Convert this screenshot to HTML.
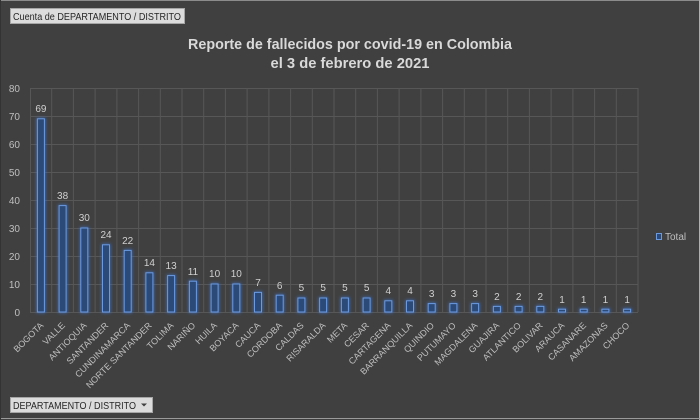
<!DOCTYPE html>
<html><head><meta charset="utf-8"><style>
html,body{margin:0;padding:0;background:#404040;}
svg{display:block;}
text{font-family:"Liberation Sans",sans-serif;}
</style></head><body>
<svg width="700" height="420" viewBox="0 0 700 420" xmlns="http://www.w3.org/2000/svg">
<defs>
<filter id="glow" x="-100%" y="-20%" width="300%" height="140%"><feGaussianBlur stdDeviation="1.6"/></filter>
</defs>
<rect x="0" y="0" width="700" height="420" fill="#404040"/>
<line x1="0" y1="0.5" x2="700" y2="0.5" stroke="#8c8c8c"/>
<line x1="699.5" y1="0" x2="699.5" y2="420" stroke="#b0b0b0"/>
<line x1="0" y1="418.5" x2="700" y2="418.5" stroke="#9a9a9a"/>
<line x1="0.5" y1="0" x2="0.5" y2="420" stroke="#333"/>

<!-- gridlines -->
<g stroke="#575757" stroke-width="1">
<line x1="30" y1="88.5" x2="638" y2="88.5"/>
<line x1="30" y1="116.5" x2="638" y2="116.5"/>
<line x1="30" y1="144.5" x2="638" y2="144.5"/>
<line x1="30" y1="172.5" x2="638" y2="172.5"/>
<line x1="30" y1="200.5" x2="638" y2="200.5"/>
<line x1="30" y1="228.5" x2="638" y2="228.5"/>
<line x1="30" y1="256.5" x2="638" y2="256.5"/>
<line x1="30" y1="284.5" x2="638" y2="284.5"/>
<line x1="30" y1="312.5" x2="638" y2="312.5"/>
<line x1="30.5" y1="88" x2="30.5" y2="312"/>
<line x1="51.7" y1="88" x2="51.7" y2="312"/>
<line x1="73.4" y1="88" x2="73.4" y2="312"/>
<line x1="95.1" y1="88" x2="95.1" y2="312"/>
<line x1="116.9" y1="88" x2="116.9" y2="312"/>
<line x1="138.6" y1="88" x2="138.6" y2="312"/>
<line x1="160.3" y1="88" x2="160.3" y2="312"/>
<line x1="182.0" y1="88" x2="182.0" y2="312"/>
<line x1="203.7" y1="88" x2="203.7" y2="312"/>
<line x1="225.4" y1="88" x2="225.4" y2="312"/>
<line x1="247.1" y1="88" x2="247.1" y2="312"/>
<line x1="268.9" y1="88" x2="268.9" y2="312"/>
<line x1="290.6" y1="88" x2="290.6" y2="312"/>
<line x1="312.3" y1="88" x2="312.3" y2="312"/>
<line x1="334.0" y1="88" x2="334.0" y2="312"/>
<line x1="355.7" y1="88" x2="355.7" y2="312"/>
<line x1="377.4" y1="88" x2="377.4" y2="312"/>
<line x1="399.1" y1="88" x2="399.1" y2="312"/>
<line x1="420.9" y1="88" x2="420.9" y2="312"/>
<line x1="442.6" y1="88" x2="442.6" y2="312"/>
<line x1="464.3" y1="88" x2="464.3" y2="312"/>
<line x1="486.0" y1="88" x2="486.0" y2="312"/>
<line x1="507.7" y1="88" x2="507.7" y2="312"/>
<line x1="529.4" y1="88" x2="529.4" y2="312"/>
<line x1="551.1" y1="88" x2="551.1" y2="312"/>
<line x1="572.9" y1="88" x2="572.9" y2="312"/>
<line x1="594.6" y1="88" x2="594.6" y2="312"/>
<line x1="616.3" y1="88" x2="616.3" y2="312"/>
<line x1="638.0" y1="88" x2="638.0" y2="312"/>
</g>

<!-- y labels -->
<g fill="#bfbfbf" font-size="10" text-anchor="end">
<text x="20" y="92">80</text>
<text x="20" y="120">70</text>
<text x="20" y="148">60</text>
<text x="20" y="176">50</text>
<text x="20" y="204">40</text>
<text x="20" y="232">30</text>
<text x="20" y="260">20</text>
<text x="20" y="288">10</text>
<text x="20" y="316">0</text>
</g>

<!-- glow -->
<g fill="#3d72c8" opacity="0.8" filter="url(#glow)">
<rect x="36.4" y="117.8" width="9" height="195.2"/>
<rect x="58.1" y="204.6" width="9" height="108.4"/>
<rect x="79.8" y="227" width="9" height="86"/>
<rect x="101.5" y="243.8" width="9" height="69.2"/>
<rect x="123.2" y="249.4" width="9" height="63.6"/>
<rect x="144.9" y="271.8" width="9" height="41.2"/>
<rect x="166.6" y="274.6" width="9" height="38.4"/>
<rect x="188.4" y="280.2" width="9" height="32.8"/>
<rect x="210.1" y="283" width="9" height="30"/>
<rect x="231.8" y="283" width="9" height="30"/>
<rect x="253.5" y="291.4" width="9" height="21.6"/>
<rect x="275.2" y="294.2" width="9" height="18.8"/>
<rect x="296.9" y="297" width="9" height="16"/>
<rect x="318.6" y="297" width="9" height="16"/>
<rect x="340.4" y="297" width="9" height="16"/>
<rect x="362.1" y="297" width="9" height="16"/>
<rect x="383.8" y="299.8" width="9" height="13.2"/>
<rect x="405.5" y="299.8" width="9" height="13.2"/>
<rect x="427.2" y="302.6" width="9" height="10.4"/>
<rect x="448.9" y="302.6" width="9" height="10.4"/>
<rect x="470.6" y="302.6" width="9" height="10.4"/>
<rect x="492.4" y="305.4" width="9" height="7.6"/>
<rect x="514.1" y="305.4" width="9" height="7.6"/>
<rect x="535.8" y="305.4" width="9" height="7.6"/>
<rect x="557.5" y="308.2" width="9" height="4.8"/>
<rect x="579.2" y="308.2" width="9" height="4.8"/>
<rect x="600.9" y="308.2" width="9" height="4.8"/>
<rect x="622.6" y="308.2" width="9" height="4.8"/>
</g>
<!-- bars -->
<g fill="#2b4a78" stroke="#6b9ae0" stroke-width="1">
<rect x="37.4" y="118.8" width="7" height="193.2"/>
<rect x="59.1" y="205.6" width="7" height="106.4"/>
<rect x="80.8" y="228" width="7" height="84"/>
<rect x="102.5" y="244.8" width="7" height="67.2"/>
<rect x="124.2" y="250.4" width="7" height="61.6"/>
<rect x="145.9" y="272.8" width="7" height="39.2"/>
<rect x="167.6" y="275.6" width="7" height="36.4"/>
<rect x="189.4" y="281.2" width="7" height="30.8"/>
<rect x="211.1" y="284" width="7" height="28"/>
<rect x="232.8" y="284" width="7" height="28"/>
<rect x="254.5" y="292.4" width="7" height="19.6"/>
<rect x="276.2" y="295.2" width="7" height="16.8"/>
<rect x="297.9" y="298" width="7" height="14"/>
<rect x="319.6" y="298" width="7" height="14"/>
<rect x="341.4" y="298" width="7" height="14"/>
<rect x="363.1" y="298" width="7" height="14"/>
<rect x="384.8" y="300.8" width="7" height="11.2"/>
<rect x="406.5" y="300.8" width="7" height="11.2"/>
<rect x="428.2" y="303.6" width="7" height="8.4"/>
<rect x="449.9" y="303.6" width="7" height="8.4"/>
<rect x="471.6" y="303.6" width="7" height="8.4"/>
<rect x="493.4" y="306.4" width="7" height="5.6"/>
<rect x="515.1" y="306.4" width="7" height="5.6"/>
<rect x="536.8" y="306.4" width="7" height="5.6"/>
<rect x="558.5" y="309.2" width="7" height="2.8"/>
<rect x="580.2" y="309.2" width="7" height="2.8"/>
<rect x="601.9" y="309.2" width="7" height="2.8"/>
<rect x="623.6" y="309.2" width="7" height="2.8"/>
</g>

<!-- data labels -->
<g fill="#d0d0d0" font-size="10" text-anchor="middle">
<text x="40.9" y="112">69</text>
<text x="62.6" y="199">38</text>
<text x="84.3" y="221">30</text>
<text x="106" y="238">24</text>
<text x="127.7" y="244">22</text>
<text x="149.4" y="266">14</text>
<text x="171.1" y="269">13</text>
<text x="192.9" y="275">11</text>
<text x="214.6" y="277">10</text>
<text x="236.3" y="277">10</text>
<text x="258" y="286">7</text>
<text x="279.7" y="289">6</text>
<text x="301.4" y="291">5</text>
<text x="323.1" y="291">5</text>
<text x="344.9" y="291">5</text>
<text x="366.6" y="291">5</text>
<text x="388.3" y="294">4</text>
<text x="410" y="294">4</text>
<text x="431.7" y="297">3</text>
<text x="453.4" y="297">3</text>
<text x="475.1" y="297">3</text>
<text x="496.9" y="300">2</text>
<text x="518.6" y="300">2</text>
<text x="540.3" y="300">2</text>
<text x="562" y="303">1</text>
<text x="583.7" y="303">1</text>
<text x="605.4" y="303">1</text>
<text x="627.1" y="303">1</text>
</g>

<!-- category labels -->
<g fill="#bfbfbf" font-size="9" text-anchor="end">
<text transform="translate(44,326) rotate(-45)">BOGOTA</text>
<text transform="translate(65.6,326) rotate(-45)">VALLE</text>
<text transform="translate(87.3,326) rotate(-45)">ANTIOQUIA</text>
<text transform="translate(109,326) rotate(-45)">SANTANDER</text>
<text transform="translate(130.7,326) rotate(-45)">CUNDINAMARCA</text>
<text transform="translate(152.4,326) rotate(-45)">NORTE SANTANDER</text>
<text transform="translate(174.1,326) rotate(-45)">TOLIMA</text>
<text transform="translate(195.9,326) rotate(-45)">NARIÑO</text>
<text transform="translate(217.6,326) rotate(-45)">HUILA</text>
<text transform="translate(239.3,326) rotate(-45)">BOYACA</text>
<text transform="translate(261,326) rotate(-45)">CAUCA</text>
<text transform="translate(282.7,326) rotate(-45)">CORDOBA</text>
<text transform="translate(304.4,326) rotate(-45)">CALDAS</text>
<text transform="translate(326.1,326) rotate(-45)">RISARALDA</text>
<text transform="translate(347.9,326) rotate(-45)">META</text>
<text transform="translate(369.6,326) rotate(-45)">CESAR</text>
<text transform="translate(391.3,326) rotate(-45)">CARTAGENA</text>
<text transform="translate(413,326) rotate(-45)">BARRANQUILLA</text>
<text transform="translate(434.7,326) rotate(-45)">QUINDIO</text>
<text transform="translate(456.4,326) rotate(-45)">PUTUMAYO</text>
<text transform="translate(478.1,326) rotate(-45)">MAGDALENA</text>
<text transform="translate(499.9,326) rotate(-45)">GUAJIRA</text>
<text transform="translate(521.6,326) rotate(-45)">ATLANTICO</text>
<text transform="translate(543.3,326) rotate(-45)">BOLIVAR</text>
<text transform="translate(565,326) rotate(-45)">ARAUCA</text>
<text transform="translate(586.7,326) rotate(-45)">CASANARE</text>
<text transform="translate(608.4,326) rotate(-45)">AMAZONAS</text>
<text transform="translate(630.1,326) rotate(-45)">CHOCO</text>
</g>

<!-- title -->
<g fill="#d9d9d9" font-size="15" font-weight="bold" text-anchor="middle">
<text x="350" y="49" textLength="324" lengthAdjust="spacingAndGlyphs">Reporte de fallecidos por covid-19 en Colombia</text>
<text x="350" y="68" textLength="159" lengthAdjust="spacingAndGlyphs">el 3 de febrero de 2021</text>
</g>

<!-- legend -->
<rect x="656.5" y="233.5" width="5" height="6" fill="#2b4a78" stroke="#6b9ae0"/>
<text x="665" y="240" fill="#bfbfbf" font-size="10">Total</text>

<!-- buttons -->
<rect x="10.5" y="8.5" width="174" height="15" fill="#dcdcdc" stroke="#a6a6a6"/>
<text x="13" y="20" fill="#262626" font-size="10" textLength="168" lengthAdjust="spacingAndGlyphs">Cuenta de DEPARTAMENTO / DISTRITO</text>
<rect x="10.5" y="397.5" width="142" height="15" fill="#dcdcdc" stroke="#a6a6a6"/>
<text x="13" y="409" fill="#262626" font-size="10" textLength="123" lengthAdjust="spacingAndGlyphs">DEPARTAMENTO / DISTRITO</text>
<path d="M141 403.5 L147 403.5 L144 406.5 Z" fill="#404040"/>
</svg>
</body></html>
